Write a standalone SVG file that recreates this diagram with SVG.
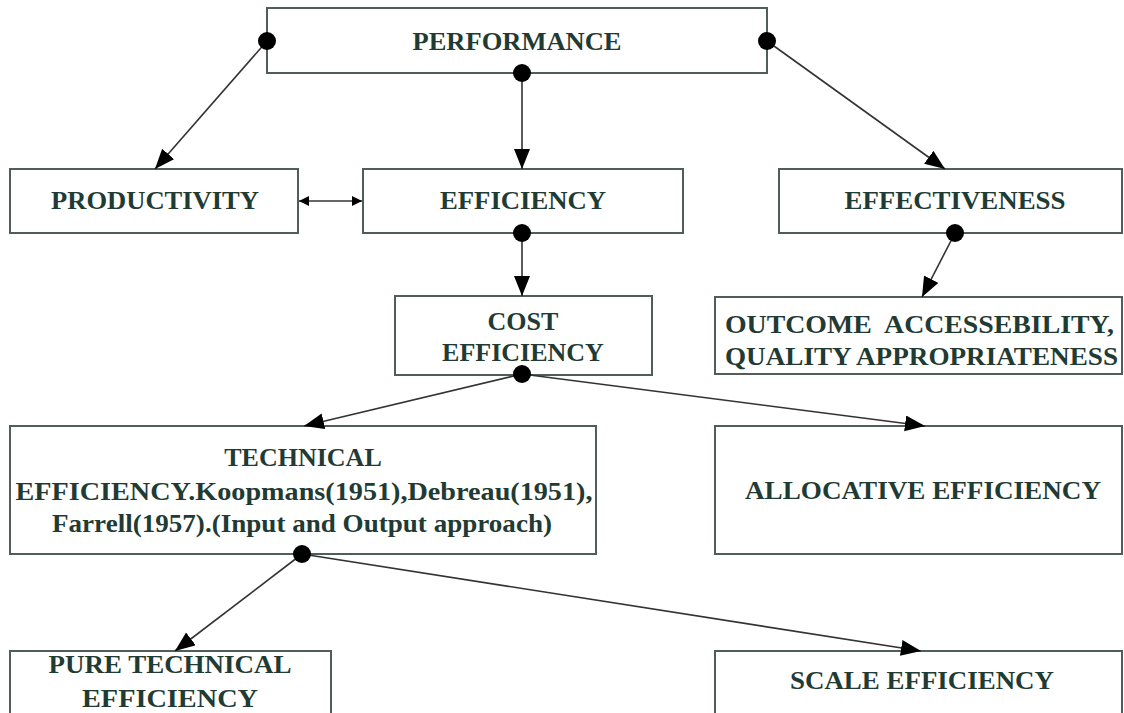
<svg xmlns="http://www.w3.org/2000/svg" width="1124" height="713" viewBox="0 0 1124 713">
<style>
.box{fill:#fff;stroke:#4f5f57;stroke-width:2}
.t{font-family:"Liberation Serif","Times New Roman",serif;font-weight:bold;font-size:26px;fill:#1f3b34;text-anchor:middle}
.tl{text-anchor:start}
.c{stroke:#333;stroke-width:1.6;fill:none}
.dot{fill:#000}
</style>
<defs>
<marker id="ah" markerUnits="userSpaceOnUse" markerWidth="22" markerHeight="18" refX="20" refY="8" orient="auto"><path d="M0,0 L20,8 L0,16 z" fill="#000"/></marker>
<marker id="sh" markerUnits="userSpaceOnUse" markerWidth="12" markerHeight="10" refX="10" refY="5" orient="auto-start-reverse"><path d="M0,0 L10,5 L0,10 z" fill="#000"/></marker>
</defs>
<rect width="1124" height="713" fill="#fff"/>
<g id="performance"><rect class="box" x="267" y="8" width="500" height="65"/><text class="t" x="517" y="50" textLength="209" lengthAdjust="spacingAndGlyphs">PERFORMANCE</text></g>
<g id="productivity"><rect class="box" x="10" y="169" width="288" height="64"/><text class="t" x="155" y="209" textLength="208" lengthAdjust="spacingAndGlyphs">PRODUCTIVITY</text></g>
<g id="efficiency"><rect class="box" x="363" y="169" width="320" height="64"/><text class="t" x="523" y="209" textLength="166" lengthAdjust="spacingAndGlyphs">EFFICIENCY</text></g>
<g id="effectiveness"><rect class="box" x="779" y="169" width="343" height="64"/><text class="t" x="955" y="209" textLength="221" lengthAdjust="spacingAndGlyphs">EFFECTIVENESS</text></g>
<g id="cost"><rect class="box" x="395" y="296" width="257" height="79"/><text class="t" x="523" y="330">COST</text><text class="t" x="523" y="361">EFFICIENCY</text></g>
<g id="outcome"><rect class="box" x="715" y="297" width="407" height="77"/><text class="t tl" x="725" y="333" xml:space="preserve" textLength="389" lengthAdjust="spacingAndGlyphs">OUTCOME  ACCESSEBILITY,</text><text class="t tl" x="725" y="365" textLength="393" lengthAdjust="spacingAndGlyphs">QUALITY APPROPRIATENESS</text></g>
<g id="technical"><rect class="box" x="10" y="426" width="586" height="128"/><text class="t" x="303" y="466">TECHNICAL</text><text class="t" x="304" y="500" textLength="577" lengthAdjust="spacingAndGlyphs">EFFICIENCY.Koopmans(1951),Debreau(1951),</text><text class="t" x="302" y="532" textLength="500" lengthAdjust="spacingAndGlyphs">Farrell(1957).(Input and Output approach)</text></g>
<g id="allocative"><rect class="box" x="715" y="426" width="407" height="128"/><text class="t" x="923" y="499" textLength="356" lengthAdjust="spacingAndGlyphs">ALLOCATIVE EFFICIENCY</text></g>
<g id="pure"><rect class="box" x="10" y="651" width="321" height="70"/><text class="t" x="170" y="673" textLength="243" lengthAdjust="spacingAndGlyphs">PURE TECHNICAL</text><text class="t" x="170" y="707" textLength="176" lengthAdjust="spacingAndGlyphs">EFFICIENCY</text></g>
<g id="scale"><rect class="box" x="715" y="651" width="407" height="70"/><text class="t" x="922" y="689" textLength="264" lengthAdjust="spacingAndGlyphs">SCALE EFFICIENCY</text></g>
<g id="connectors">
<line class="c" x1="267" y1="41" x2="155" y2="169" marker-end="url(#ah)"/>
<line class="c" x1="522" y1="73" x2="522" y2="169" marker-end="url(#ah)"/>
<line class="c" x1="767" y1="41" x2="945" y2="169" marker-end="url(#ah)"/>
<line class="c" x1="299" y1="201" x2="362" y2="201" marker-start="url(#sh)" marker-end="url(#sh)"/>
<line class="c" x1="522" y1="233" x2="522" y2="296" marker-end="url(#ah)"/>
<line class="c" x1="955" y1="233" x2="922" y2="297" marker-end="url(#ah)"/>
<line class="c" x1="522" y1="374" x2="304" y2="426" marker-end="url(#ah)"/>
<line class="c" x1="522" y1="374" x2="925" y2="426" marker-end="url(#ah)"/>
<line class="c" x1="302" y1="554" x2="175" y2="651" marker-end="url(#ah)"/>
<line class="c" x1="302" y1="554" x2="921" y2="651" marker-end="url(#ah)"/>
<circle class="dot" cx="267" cy="41" r="9"/>
<circle class="dot" cx="767" cy="41" r="9"/>
<circle class="dot" cx="522" cy="73" r="9"/>
<circle class="dot" cx="522" cy="233" r="9"/>
<circle class="dot" cx="955" cy="233" r="9"/>
<circle class="dot" cx="522" cy="374" r="9"/>
<circle class="dot" cx="302" cy="554" r="9"/>
</g>
</svg>
